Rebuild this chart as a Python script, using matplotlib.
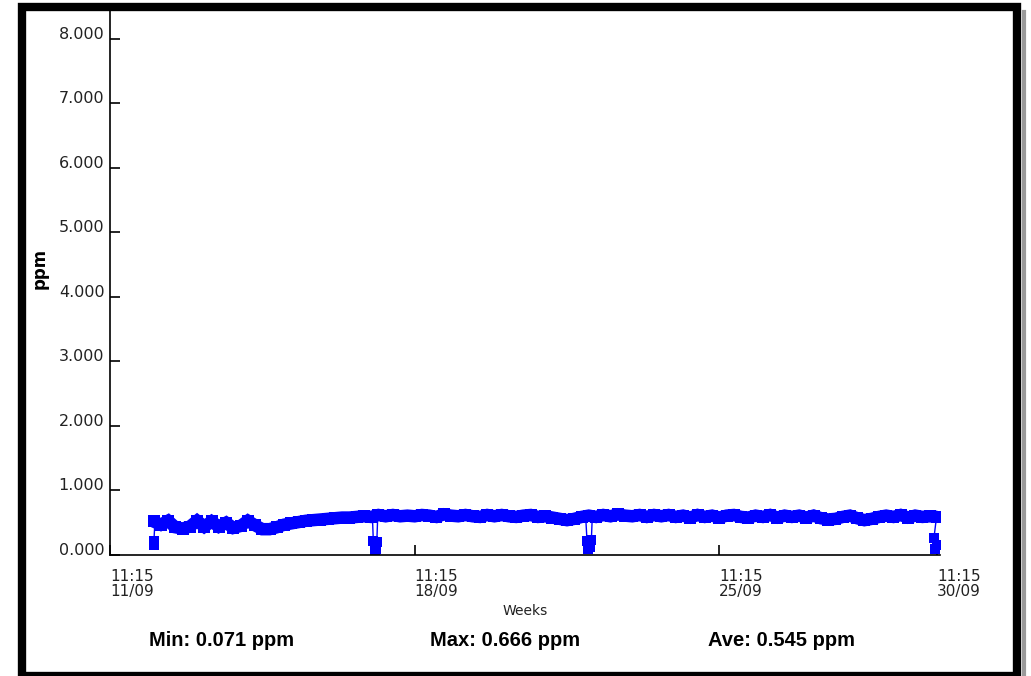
import numpy as np
import matplotlib
matplotlib.use("Agg")
import matplotlib.pyplot as plt
from matplotlib.lines import Line2D

# readings every 4 hours, in days after 11/09 11:15
start_day = 1.0
step_day = 1 / 6
ppm_values = [
    0.52, 0.47, 0.53, 0.43, 0.41, 0.44,
    0.53, 0.44, 0.52, 0.44, 0.50, 0.42,
    0.45, 0.53, 0.46, 0.40, 0.40, 0.43,
    0.47, 0.49, 0.51, 0.53, 0.54, 0.55,
    0.56, 0.57, 0.58, 0.58, 0.59, 0.60,
    0.59, 0.62, 0.60, 0.62, 0.60, 0.61,
    0.60, 0.62, 0.61, 0.59, 0.63, 0.61,
    0.60, 0.62, 0.60, 0.59, 0.62, 0.60,
    0.62, 0.60, 0.59, 0.61, 0.62, 0.59,
    0.60, 0.58, 0.56, 0.54, 0.56, 0.59,
    0.61, 0.59, 0.62, 0.60, 0.63, 0.61,
    0.60, 0.62, 0.59, 0.62, 0.60, 0.62,
    0.59, 0.61, 0.58, 0.62, 0.59, 0.61,
    0.58, 0.61, 0.62, 0.59, 0.58, 0.61,
    0.59, 0.62, 0.58, 0.61, 0.59, 0.61,
    0.58, 0.61, 0.57, 0.55, 0.56, 0.59,
    0.61, 0.57, 0.54, 0.56, 0.59, 0.61,
    0.59, 0.62, 0.58, 0.61, 0.59, 0.60,
    0.59,
]

# short drops towards zero (thin trace)
start_days = [1.0, 1.01, 1.03]
start_vals = [0.15, 0.22, 0.50]
dip1_days = [6.03, 6.05, 6.08, 6.11, 6.13, 6.15]
dip1_vals = [0.58, 0.22, 0.071, 0.10, 0.20, 0.58]
dip2_days = [10.93, 10.96, 10.99, 11.03, 11.06, 11.08]
dip2_vals = [0.58, 0.22, 0.10, 0.12, 0.24, 0.58]
end_days = [18.99, 18.93, 18.96, 19.0]
end_vals = [0.59, 0.26, 0.10, 0.15]

y_ticks = [0, 1, 2, 3, 4, 5, 6, 7, 8]
x_ticks = [0, 7, 14, 19]
x_labels = ["11:15\n11/09", "11:15\n18/09", "11:15\n25/09", "11:15\n30/09"]

stats = [("Min: 0.071 ppm", 222), ("Max: 0.666 ppm", 505), ("Ave: 0.545 ppm", 782)]

W, H = 1031, 676
fig = plt.figure(figsize=(W / 100, H / 100), dpi=100)

ax = fig.add_axes([110 / W, 1 - 555 / H, 830 / W, (555 - 11) / H])
days = start_day + step_day * np.arange(len(ppm_values))

blue = "#0000ff"
ax.plot(days, ppm_values, color=blue, lw=9, marker="s", ms=9, mew=0,
        solid_joinstyle="miter", solid_capstyle="butt")
spike = dict(color=blue, lw=1.0)
for dx, dy in [(start_days, start_vals), (dip1_days, dip1_vals),
               (dip2_days, dip2_vals), (end_days, end_vals)]:
    ax.plot(dx, dy, **spike)
    low = [(a, b) for a, b in zip(dx, dy) if b < 0.3]
    ax.plot([a for a, b in low], [b for a, b in low], ls="none", marker="s",
            ms=6.5, color=blue, mew=0)

ax.set_xlim(0, 19.07)
ax.set_ylim(0, 8.43)
for s in ["top", "right"]:
    ax.spines[s].set_visible(False)
for s in ["left", "bottom"]:
    ax.spines[s].set_linewidth(1.2)

ax.set_yticks(y_ticks)
ax.set_yticklabels([f"{v:.3f}" for v in y_ticks], fontsize=11.5, color="#222222")
for lab in ax.get_yticklabels():
    lab.set_verticalalignment("baseline")
ax.tick_params(axis="y", direction="in", length=7, width=1.2, pad=4)

ax.set_xticks(x_ticks)
ax.set_xticklabels(x_labels, fontsize=11, color="#222222", linespacing=1.0)
for lab in ax.get_xticklabels():
    lab.set_horizontalalignment("left")
ax.tick_params(axis="x", direction="in", length=7, width=1.2, pad=10)

fig.text(40 / W, 1 - 268 / H, "ppm", rotation=90, ha="center", va="center",
         fontsize=12, fontweight="bold")
fig.text(525 / W, 1 - 611 / H, "Weeks", ha="center", va="center", fontsize=10,
         color="#222222")

for txt, xc in stats:
    fig.text(xc / W, 1 - 641 / H, txt, ha="center", va="center", fontsize=14.5,
             fontweight="bold", family=["Liberation Sans Narrow", "Liberation Sans"])

# thick frame with a soft shadow on the right
fig.add_artist(Line2D([1024 / W, 1024 / W], [1 - 12 / H, 0], transform=fig.transFigure,
                      color="#9a9a9a", lw=3))
frame = plt.Rectangle((22 / W, 0.5 / H), (1017 - 22) / W, 1 - 7 / H - 0.5 / H,
                      transform=fig.transFigure, fill=False, ec="black", lw=6)
fig.add_artist(frame)

fig.savefig("out.png", dpi=100)
